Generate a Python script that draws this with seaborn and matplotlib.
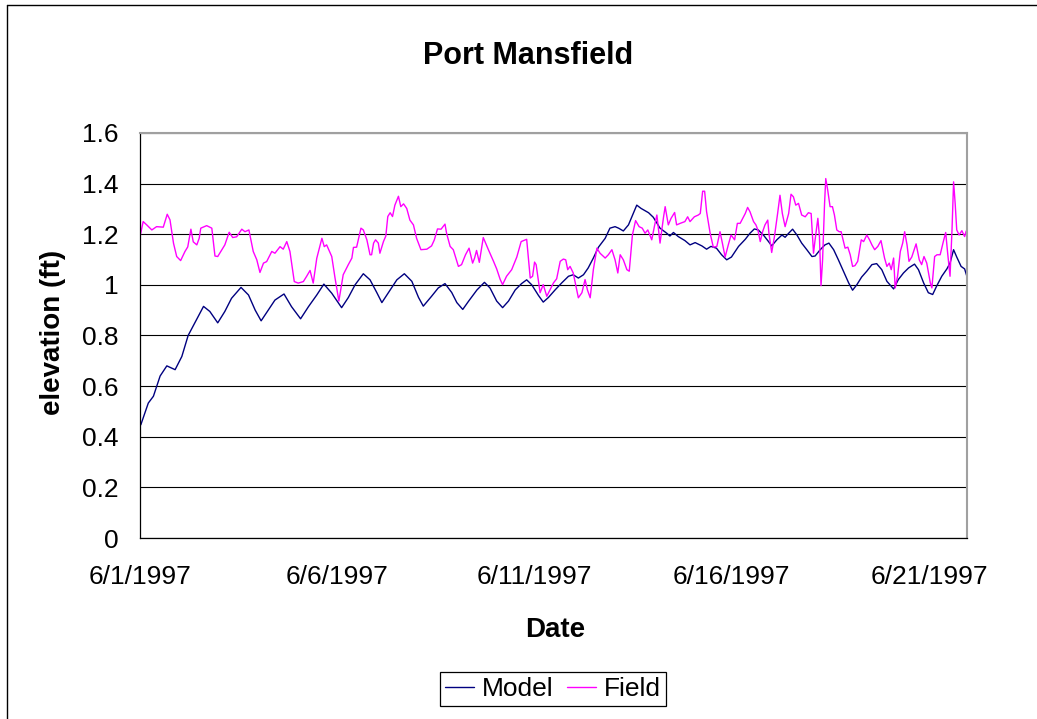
import matplotlib
matplotlib.use("Agg")
import matplotlib.pyplot as plt
import matplotlib.dates as mdates
from matplotlib.lines import Line2D
import seaborn as sns
import pandas as pd

# time in days after 6/1/1997 00:00, elevation in ft
model_days = [0.02, 0.21, 0.34, 0.51, 0.68, 0.89, 1.06, 1.22, 1.39, 1.61, 1.77, 1.97, 2.15, 2.32,
              2.56, 2.75, 2.92, 3.07, 3.25, 3.42, 3.65, 3.84, 4.07, 4.27, 4.48, 4.66, 4.86, 5.11,
              5.28, 5.45, 5.66, 5.83, 6.00, 6.13, 6.30, 6.51, 6.70, 6.89, 7.06, 7.18, 7.39, 7.56,
              7.73, 7.90, 8.03, 8.18, 8.33, 8.54, 8.73, 8.87, 9.04, 9.19, 9.34, 9.51, 9.67, 9.80,
              9.93, 10.10, 10.22, 10.35, 10.52, 10.69, 10.86, 10.98, 11.11, 11.24, 11.36, 11.49,
              11.62, 11.79, 11.91, 12.04, 12.13, 12.25, 12.38, 12.50, 12.59, 12.70, 12.89, 13.01,
              13.18, 13.35, 13.43, 13.52, 13.64, 13.81, 13.94, 14.07, 14.24, 14.36, 14.47, 14.61,
              14.74, 14.87, 14.99, 15.17, 15.34, 15.46, 15.57, 15.67, 15.80, 15.93, 16.01, 16.14,
              16.27, 16.35, 16.44, 16.54, 16.65, 16.77, 16.90, 17.03, 17.11, 17.24, 17.36, 17.46,
              17.58, 17.70, 17.83, 17.96, 18.06, 18.17, 18.29, 18.42, 18.55, 18.67, 18.80, 18.93,
              19.10, 19.22, 19.35, 19.48, 19.63, 19.73, 19.86, 19.98, 20.09, 20.19, 20.32, 20.45,
              20.53, 20.62, 20.70, 20.81, 20.90, 20.97]
model_elev = [0.447, 0.533, 0.56, 0.64, 0.68, 0.665, 0.717, 0.80, 0.85, 0.915, 0.895, 0.85, 0.895,
              0.947, 0.99, 0.96, 0.90, 0.858, 0.90, 0.94, 0.964, 0.914, 0.866, 0.914, 0.96, 1.003,
              0.967, 0.91, 0.95, 1.0, 1.044, 1.02, 0.97, 0.93, 0.97, 1.02, 1.044, 1.014, 0.95,
              0.916, 0.955, 0.988, 1.005, 0.97, 0.93, 0.903, 0.936, 0.98, 1.01, 0.988, 0.936, 0.91,
              0.936, 0.98, 1.005, 1.02, 1.0, 0.958, 0.932, 0.95, 0.98, 1.008, 1.034, 1.04, 1.027,
              1.04, 1.067, 1.106, 1.149, 1.184, 1.224, 1.23, 1.224, 1.213, 1.237, 1.282, 1.315,
              1.302, 1.285, 1.267, 1.224, 1.204, 1.193, 1.207, 1.191, 1.175, 1.158, 1.167, 1.154,
              1.141, 1.152, 1.145, 1.119, 1.099, 1.11, 1.152, 1.18, 1.204, 1.221, 1.217, 1.197,
              1.171, 1.154, 1.178, 1.197, 1.188, 1.204, 1.22, 1.197, 1.165, 1.139, 1.112, 1.114,
              1.139, 1.158, 1.165, 1.139, 1.099, 1.054, 1.008, 0.979, 1.001, 1.031, 1.054, 1.08,
              1.084, 1.06, 1.014, 0.984, 1.021, 1.047, 1.067, 1.082, 1.06, 1.008, 0.969, 0.962,
              0.995, 1.034, 1.063, 1.086, 1.139, 1.11, 1.073, 1.063, 1.027]

field_days = [0.00, 0.08, 0.17, 0.30, 0.42, 0.59, 0.69, 0.76, 0.85, 0.93, 1.03, 1.14, 1.21, 1.29,
              1.35, 1.44, 1.50, 1.54, 1.69, 1.82, 1.90, 1.97, 2.07, 2.15, 2.26, 2.35, 2.45, 2.58,
              2.66, 2.76, 2.87, 2.96, 3.04, 3.13, 3.21, 3.34, 3.42, 3.55, 3.63, 3.72, 3.80, 3.91,
              4.01, 4.14, 4.22, 4.31, 4.39, 4.48, 4.61, 4.67, 4.73, 4.86, 4.94, 5.04, 5.15, 5.28,
              5.37, 5.41, 5.49, 5.60, 5.66, 5.75, 5.83, 5.87, 5.92, 5.97, 6.04, 6.08, 6.17, 6.23,
              6.28, 6.34, 6.40, 6.46, 6.55, 6.61, 6.68, 6.76, 6.84, 6.93, 7.01, 7.12, 7.27, 7.39,
              7.46, 7.54, 7.63, 7.73, 7.77, 7.86, 7.94, 8.07, 8.15, 8.25, 8.34, 8.43, 8.48, 8.53,
              8.60, 8.70, 8.83, 8.96, 9.04, 9.13, 9.19, 9.29, 9.42, 9.55, 9.66, 9.72, 9.80, 9.89,
              9.95, 10.00, 10.04, 10.14, 10.22, 10.31, 10.39, 10.48, 10.56, 10.65, 10.73, 10.79,
              10.84, 10.90, 10.98, 11.04, 11.11, 11.20, 11.28, 11.34, 11.41, 11.49, 11.58, 11.66,
              11.79, 11.87, 11.96, 12.04, 12.11, 12.17, 12.25, 12.34, 12.40, 12.48, 12.56, 12.65,
              12.73, 12.80, 12.87, 12.97, 13.04, 13.10, 13.18, 13.27, 13.31, 13.39, 13.46, 13.55,
              13.60, 13.69, 13.81, 13.88, 13.94, 14.05, 14.15, 14.20, 14.26, 14.31, 14.36, 14.45,
              14.53, 14.62, 14.70, 14.76, 14.83, 14.91, 14.98, 15.07, 15.14, 15.21, 15.34, 15.40,
              15.46, 15.55, 15.61, 15.66, 15.72, 15.78, 15.84, 15.91, 15.94, 16.01, 16.08, 16.16,
              16.22, 16.28, 16.35, 16.44, 16.50, 16.56, 16.62, 16.69, 16.77, 16.86, 16.94, 17.01,
              17.07, 17.11, 17.18, 17.22, 17.26, 17.30, 17.35, 17.38, 17.43, 17.49, 17.55, 17.60,
              17.66, 17.72, 17.77, 17.87, 17.94, 18.00, 18.06, 18.12, 18.19, 18.28, 18.34, 18.42,
              18.49, 18.55, 18.62, 18.70, 18.78, 18.87, 18.93, 18.99, 19.04, 19.10, 19.14, 19.20,
              19.27, 19.33, 19.38, 19.44, 19.49, 19.56, 19.62, 19.67, 19.75, 19.81, 19.87, 19.94,
              20.03, 20.07, 20.14, 20.20, 20.28, 20.36, 20.42, 20.47, 20.53, 20.58, 20.62, 20.66,
              20.70, 20.76, 20.83, 20.90, 20.94, 20.98]
field_elev = [1.19, 1.25, 1.237, 1.217, 1.23, 1.228, 1.279, 1.257, 1.164, 1.112, 1.096, 1.132, 1.15,
              1.22, 1.17, 1.158, 1.184, 1.224, 1.234, 1.224, 1.114, 1.112, 1.138, 1.158, 1.208,
              1.187, 1.19, 1.22, 1.21, 1.217, 1.132, 1.099, 1.049, 1.086, 1.092, 1.132, 1.125,
              1.151, 1.141, 1.171, 1.132, 1.013, 1.007, 1.013, 1.033, 1.057, 1.007, 1.105, 1.184,
              1.151, 1.158, 1.112, 1.03, 0.936, 1.04, 1.08, 1.106, 1.148, 1.149, 1.224, 1.217,
              1.178, 1.119, 1.119, 1.165, 1.178, 1.165, 1.125, 1.171, 1.193, 1.27, 1.285, 1.27,
              1.315, 1.35, 1.309, 1.32, 1.302, 1.256, 1.237, 1.184, 1.139, 1.141, 1.154, 1.178,
              1.221, 1.22, 1.24, 1.204, 1.152, 1.139, 1.073, 1.08, 1.119, 1.145, 1.086, 1.106,
              1.136, 1.089, 1.187, 1.139, 1.093, 1.063, 1.021, 1.001, 1.034, 1.06, 1.11, 1.171,
              1.175, 1.18, 1.027, 1.034, 1.09, 1.08, 0.969, 1.001, 0.955, 0.98, 1.008, 1.024,
              1.093, 1.102, 1.099, 1.06, 1.073, 1.047, 1.001, 0.949, 0.969, 1.021, 0.98, 0.949,
              1.06, 1.145, 1.125, 1.106, 1.119, 1.139, 1.099, 1.047, 1.119, 1.099, 1.06, 1.054,
              1.197, 1.254, 1.23, 1.224, 1.204, 1.217, 1.178, 1.233, 1.276, 1.165, 1.269, 1.309,
              1.237, 1.263, 1.286, 1.237, 1.243, 1.25, 1.269, 1.25, 1.269, 1.276, 1.282, 1.37,
              1.37, 1.289, 1.204, 1.149, 1.152, 1.21, 1.165, 1.11, 1.158, 1.197, 1.178, 1.243,
              1.243, 1.282, 1.306, 1.289, 1.25, 1.237, 1.217, 1.171, 1.21, 1.237, 1.256, 1.204,
              1.128, 1.191, 1.282, 1.354, 1.282, 1.23, 1.282, 1.358, 1.348, 1.315, 1.322, 1.276,
              1.269, 1.285, 1.282, 1.125, 1.178, 1.263, 1.191, 0.997, 1.099, 1.322, 1.42, 1.374,
              1.309, 1.309, 1.276, 1.217, 1.21, 1.21, 1.145, 1.149, 1.119, 1.073, 1.076, 1.093,
              1.178, 1.171, 1.197, 1.178, 1.158, 1.139, 1.152, 1.175, 1.106, 1.073, 1.086, 1.06,
              1.106, 0.988, 1.034, 1.132, 1.165, 1.21, 1.158, 1.093, 1.11, 1.139, 1.162, 1.099,
              1.08, 1.112, 1.086, 1.008, 0.988, 1.112, 1.119, 1.119, 1.171, 1.207, 1.125, 1.034,
              1.217, 1.407, 1.322, 1.217, 1.197, 1.214, 1.191, 1.213, 1.171]

series_names = ["Model", "Field"]
series_colors = ["#000080", "#FF00FF"]
tick_dates = ["1997-06-01", "1997-06-06", "1997-06-11", "1997-06-16", "1997-06-21"]
y_ticks = [0, 0.2, 0.4, 0.6, 0.8, 1.0, 1.2, 1.4, 1.6]
y_labels = ["0", "0.2", "0.4", "0.6", "0.8", "1", "1.2", "1.4", "1.6"]

start = pd.Timestamp("1997-06-01")


def build_frame():
    m = pd.DataFrame({"time": start + pd.to_timedelta(model_days, unit="D"),
                      "elevation": model_elev, "series": "Model"})
    f = pd.DataFrame({"time": start + pd.to_timedelta(field_days, unit="D"),
                      "elevation": field_elev, "series": "Field"})
    return pd.concat([m, f], ignore_index=True)


def main():
    sns.set_style("white")
    plt.rcParams["font.family"] = ["Liberation Sans", "DejaVu Sans"]
    plt.rcParams["text.color"] = "black"
    plt.rcParams["axes.labelcolor"] = "black"
    plt.rcParams["xtick.color"] = "black"
    plt.rcParams["ytick.color"] = "black"

    data = build_frame()

    fig = plt.figure(figsize=(10.37, 7.19), dpi=100)
    ax = fig.add_axes([140 / 1037, 1 - 538 / 719, 827 / 1037, 405 / 719])

    sns.lineplot(data=data, x="time", y="elevation", hue="series", hue_order=series_names,
                 palette=series_colors, estimator=None, linewidth=1.0, ax=ax)

    ax.set_ylim(0, 1.6)
    ax.set_xlim(start, start + pd.Timedelta(days=20.96))
    ax.set_yticks(y_ticks)
    ax.set_yticklabels(y_labels)
    ax.set_xticks(pd.to_datetime(tick_dates))
    ax.xaxis.set_major_formatter(mdates.DateFormatter("%-m/%-d/%Y"))

    ax.yaxis.grid(True, color="black", linewidth=0.8)
    ax.xaxis.grid(False)
    ax.set_axisbelow(True)

    for side in ["left", "bottom"]:
        ax.spines[side].set_color("black")
        ax.spines[side].set_linewidth(0.9)
    for side in ["top", "right"]:
        ax.spines[side].set_color("#a0a0a0")
        ax.spines[side].set_linewidth(1.5)

    ax.tick_params(axis="both", direction="out", length=6.5, width=0.8, color="black",
                   labelcolor="black", labelsize=19)
    ax.tick_params(axis="x", pad=13)
    ax.tick_params(axis="y", pad=9)

    ax.set_xlabel("Date", fontsize=20, fontweight="bold", color="black")
    ax.set_ylabel("elevation (ft)", fontsize=20, fontweight="bold", color="black")
    ax.xaxis.label.set_verticalalignment("center")
    ax.yaxis.label.set_verticalalignment("center")
    ax.xaxis.set_label_coords((555 - 140) / 827, (538 - 630) / 405)
    ax.yaxis.set_label_coords((53 - 140) / 827, (538 - 332) / 405)

    fig.text(528 / 1037, 1 - 56 / 719, "Port Mansfield", ha="center", va="center",
             fontsize=22, fontweight="bold", color="black")

    handles, labels = ax.get_legend_handles_labels()
    ax.get_legend().remove()
    leg = fig.legend(handles, labels, loc="center", bbox_to_anchor=(553 / 1037, 1 - 689 / 719),
                     ncol=2, fontsize=19, frameon=True, fancybox=False, edgecolor="black",
                     framealpha=1, borderpad=0.2, handlelength=1.1, handletextpad=0.3,
                     columnspacing=0.5, borderaxespad=0)
    leg.get_frame().set_linewidth(0.9)
    for t in leg.get_texts():
        t.set_color("black")

    # outer chart border (top and left visible in the reference)
    fig.add_artist(Line2D([7 / 1037, 1], [1 - 5 / 719, 1 - 5 / 719], color="black",
                          linewidth=1.0, transform=fig.transFigure))
    fig.add_artist(Line2D([7 / 1037, 7 / 1037], [0, 1 - 5 / 719], color="black",
                          linewidth=1.0, transform=fig.transFigure))

    fig.savefig("out.png", dpi=100)


if __name__ == "__main__":
    main()
